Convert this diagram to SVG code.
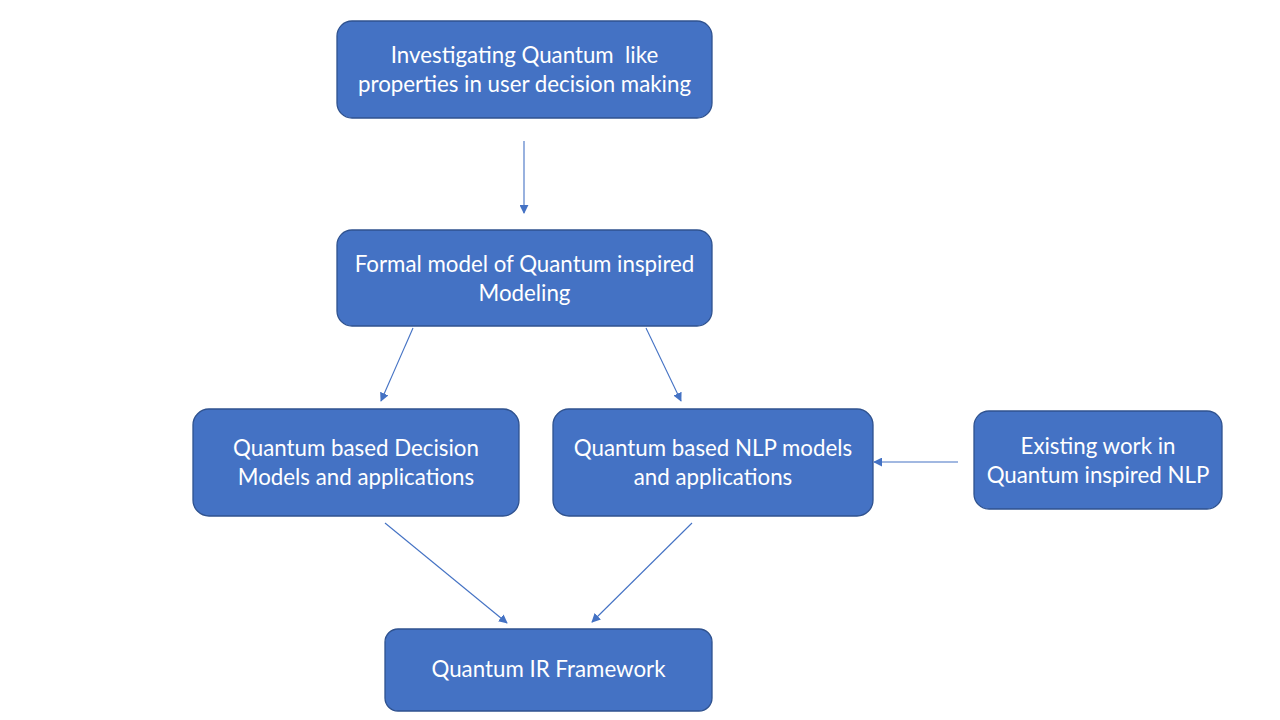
<svg xmlns="http://www.w3.org/2000/svg" width="1280" height="720" viewBox="0 0 1280 720">
<style>
.box{fill:#4472C4;stroke:#2F528F;stroke-width:1.3}
.t{font-family:Lato,"Open Sans","Liberation Sans",sans-serif;font-size:22.3px;fill:#FFFFFF;text-anchor:middle;white-space:pre}
.c{stroke:#4472C4;stroke-width:1.1;fill:none;marker-end:url(#ah)}
</style>
<defs>
<marker id="ah" viewBox="0 0 10 10" refX="9" refY="5" markerWidth="9" markerHeight="9" markerUnits="userSpaceOnUse" orient="auto">
<path d="M0,0 L10,5 L0,10 z" fill="#4472C4"/>
</marker>
</defs>
<rect width="1280" height="720" fill="#FFFFFF"/>
<g id="n1"><rect class="box" x="337" y="21" width="375" height="97" rx="15"/>
<text class="t" x="524.5" y="63">Investigating Quantum  like</text>
<text class="t" x="524.5" y="92">properties in user decision making</text></g>
<g id="n2"><rect class="box" x="337" y="230" width="375" height="96" rx="15"/>
<text class="t" x="524.5" y="272">Formal model of Quantum inspired</text>
<text class="t" x="524.5" y="301">Modeling</text></g>
<g id="n3"><rect class="box" x="193" y="409" width="326" height="107" rx="16"/>
<text class="t" x="356" y="456">Quantum based Decision</text>
<text class="t" x="356" y="485">Models and applications</text></g>
<g id="n4"><rect class="box" x="553" y="409" width="320" height="107" rx="16"/>
<text class="t" x="713" y="456">Quantum based NLP models</text>
<text class="t" x="713" y="485">and applications</text></g>
<g id="n5"><rect class="box" x="974" y="411" width="248" height="98" rx="15"/>
<text class="t" x="1098" y="454">Existing work in</text>
<text class="t" x="1098" y="483">Quantum inspired NLP</text></g>
<g id="n6"><rect class="box" x="385" y="629" width="327" height="82" rx="13"/>
<text class="t" x="548.5" y="677">Quantum IR Framework</text></g>
<g id="connectors">
<line class="c" x1="524" y1="141" x2="524" y2="213"/>
<line class="c" x1="413" y1="328" x2="381" y2="401"/>
<line class="c" x1="646" y1="328" x2="681" y2="401"/>
<line class="c" x1="958" y1="462" x2="874" y2="462"/>
<line class="c" x1="385" y1="523" x2="507" y2="623"/>
<line class="c" x1="692" y1="523" x2="592" y2="622"/>
</g>
</svg>
